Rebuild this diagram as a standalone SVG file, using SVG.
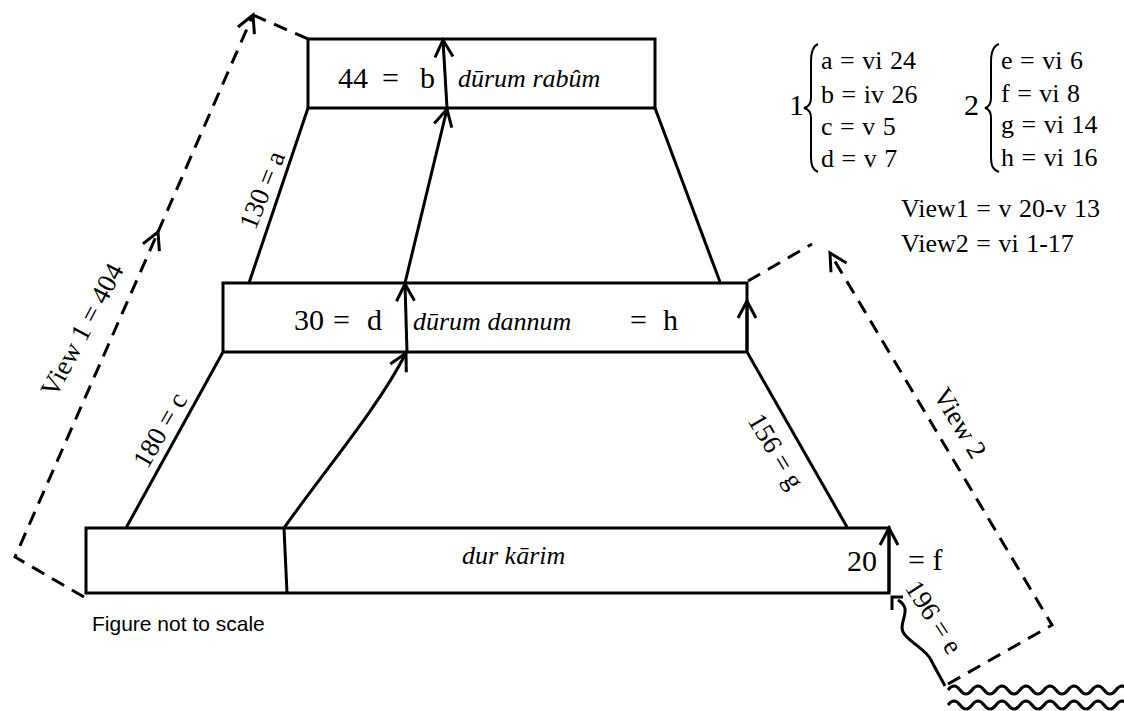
<svg xmlns="http://www.w3.org/2000/svg" width="1124" height="711" viewBox="0 0 1124 711">
<style>
.box{fill:none;stroke:#000;stroke-width:3}
.ln{fill:none;stroke:#000;stroke-width:3}
.dash{fill:none;stroke:#000;stroke-width:3;stroke-dasharray:14 9}
.up{font-family:"Liberation Serif",serif;font-size:30px;fill:#000}
.it{font-family:"Liberation Serif",serif;font-style:italic;font-size:26px;fill:#000}
.lg{font-family:"Liberation Serif",serif;font-size:26px;fill:#000;word-spacing:1px}
.rt{font-family:"Liberation Serif",serif;font-size:27px;fill:#000;text-anchor:middle}
.sans{font-family:"Liberation Sans",Arial,sans-serif;font-size:21px;fill:#000}
.brace{fill:none;stroke:#000;stroke-width:2}
</style>
<defs>
<marker id="ah" viewBox="-20 -12 24 24" markerWidth="24" markerHeight="24" markerUnits="userSpaceOnUse" orient="auto" refX="0" refY="0">
<path d="M-17,-9 L0,0 L-17,9" fill="none" stroke="#000" stroke-width="3"/>
</marker>
</defs>

<g id="top-box">
<rect class="box" x="308" y="39" width="347" height="69"/>
<text class="up" x="338" y="88">44</text>
<text class="up" x="382" y="88">=</text>
<text class="up" x="420" y="88">b</text>
<text class="it" x="458" y="87">dūrum rabûm</text>
</g>

<g id="middle-box">
<rect class="box" x="223" y="283" width="524" height="69"/>
<text class="up" x="294" y="330">30</text>
<text class="up" x="333" y="330">=</text>
<text class="up" x="367" y="330">d</text>
<text class="it" x="413" y="330">dūrum dannum</text>
<text class="up" x="630" y="330">=</text>
<text class="up" x="663" y="330">h</text>
</g>

<g id="bottom-box">
<rect class="box" x="86" y="528" width="803" height="65"/>
<text class="it" x="462" y="564">dur kārim</text>
<text class="up" x="847" y="571">20</text>
</g>

<g id="connectors">
<line class="ln" x1="308" y1="108" x2="249" y2="283"/>
<line class="ln" x1="655" y1="108" x2="720" y2="282"/>
<line class="ln" x1="223" y1="352" x2="126" y2="528"/>
<line class="ln" x1="747" y1="352" x2="847" y2="527"/>
<line class="ln" x1="405" y1="283" x2="447" y2="109" marker-end="url(#ah)"/>
<line class="ln" x1="407" y1="352" x2="405" y2="284" marker-end="url(#ah)"/>
<line class="ln" x1="447" y1="108" x2="443" y2="40" marker-end="url(#ah)"/>
<line class="ln" x1="287" y1="593" x2="284" y2="528"/>
<path class="ln" d="M284,528 C325,470 378,408 406,353" marker-end="url(#ah)"/>
<line class="ln" x1="747" y1="350" x2="747" y2="301" marker-end="url(#ah)"/>
<line class="ln" x1="889" y1="592" x2="889" y2="528" marker-end="url(#ah)"/>
<path class="ln" d="M903,597 L892,597 L892,610"/>
<path class="ln" d="M898,600 C915,610 895,624 905,635 S926,650 931,660 S941,678 945,686"/>
<path class="dash" d="M84,597 L15,557 L158,232" marker-end="url(#ah)"/>
<path class="dash" d="M158,232 L253,15" marker-end="url(#ah)"/>
<path class="dash" d="M253,15 L308,39"/>
<path class="dash" d="M748,281 L812,244"/>
<path class="dash" d="M948,684 L1052,625 L830,253" marker-end="url(#ah)"/>
<path class="ln" stroke-width="2.5" d="M948,690 q6,-8 12,0 t12,0 t12,0 t12,0 t12,0 t12,0 t12,0 t12,0 t12,0 t12,0 t12,0 t12,0 t12,0 t12,0 t12,0"/>
<path class="ln" stroke-width="2.5" d="M948,705 q6,-8 12,0 t12,0 t12,0 t12,0 t12,0 t12,0 t12,0 t12,0 t12,0 t12,0 t12,0 t12,0 t12,0 t12,0 t12,0"/>
</g>

<g id="edge-labels">
<text class="rt" transform="translate(262,190) rotate(-68)" y="9">130 = a</text>
<text class="rt" transform="translate(160,430) rotate(-60)" y="9">180 = c</text>
<text class="rt" transform="translate(82,330) rotate(-62)" y="9">View 1 = 404</text>
<text class="rt" transform="translate(960,423) rotate(59)" y="9">View 2</text>
<text class="rt" transform="translate(776,451) rotate(59)" y="9">156 = g</text>
<text class="rt" transform="translate(934,617) rotate(57)" y="9">196 = e</text>
<text class="up" x="908" y="570" font-size="28">= f</text>
</g>

<g id="legend">
<text class="up" x="789" y="115" font-size="28">1</text>
<path class="brace" d="M818,44 C813,46 811,52 811,62 L811,98 C811,104 808,107 804,108 C808,109 811,112 811,118 L811,156 C811,166 813,170 818,172"/>
<text class="lg" x="821" y="69">a = vi 24</text>
<text class="lg" x="821" y="103">b = iv 26</text>
<text class="lg" x="821" y="135">c = v 5</text>
<text class="lg" x="821" y="167">d = v 7</text>
<text class="up" x="964" y="115" font-size="28">2</text>
<path class="brace" d="M999,44 C993,46 991,52 991,62 L991,98 C991,104 989,107 985,108 C989,109 991,112 991,118 L991,156 C991,166 993,170 999,172"/>
<text class="lg" x="1001" y="69">e = vi 6</text>
<text class="lg" x="1001" y="102">f = vi 8</text>
<text class="lg" x="1001" y="133">g = vi 14</text>
<text class="lg" x="1001" y="166">h = vi 16</text>
<text class="lg" x="901" y="217">View1 = v 20-v 13</text>
<text class="lg" x="901" y="252">View2 = vi 1-17</text>
</g>

<text class="sans" x="92" y="631">Figure not to scale</text>
</svg>
